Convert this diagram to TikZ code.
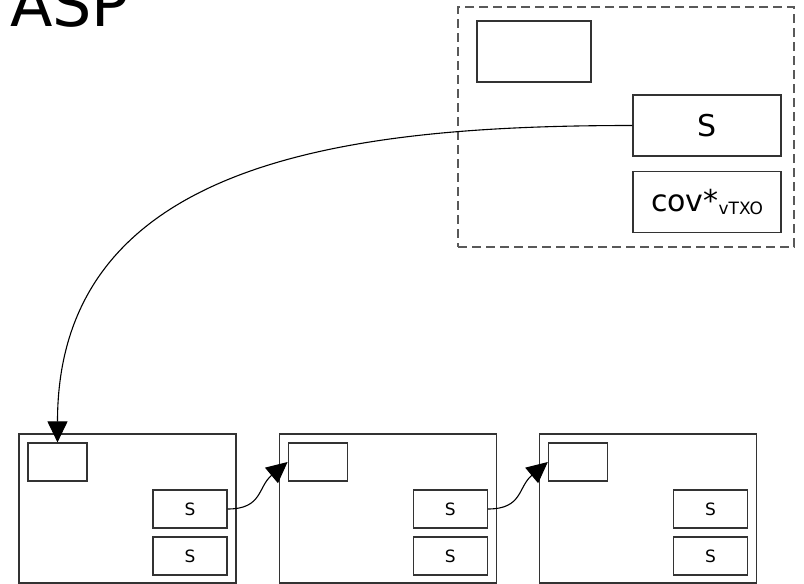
\documentclass[tikz,border=0pt]{standalone}
\usepackage{fontspec}
\setmainfont{DejaVu Sans}
\usetikzlibrary{arrows.meta,positioning}

\begin{document}
\begin{tikzpicture}[x=1pt, y=-1pt, >={Triangle[length=21pt,width=20pt]}, node distance=9pt,
    box/.style={rectangle, draw=black!80, line width=1.2pt, inner sep=0pt},
    pool/.style={box, dash pattern=on 9pt off 5pt, draw=black!65},
    tx/.style={box, minimum width=217pt, minimum height=149pt},
    inbox/.style={box, minimum width=59pt, minimum height=38pt},
    sbox/.style={box, minimum width=74pt, minimum height=38pt, font=\fontsize{17}{17}\selectfont},
    bigbox/.style={box, minimum width=148pt, minimum height=61pt, font=\fontsize{30}{30}\selectfont},
    line/.style={draw, ->, line width=1.1pt}]

    \useasboundingbox (0,0) rectangle (804,584);

    \node [anchor=base west, inner sep=0pt, font=\fontsize{62}{62}\selectfont] (asp) at (10,26) {ASP};

    % ASP side
    \node [pool, minimum width=336pt, minimum height=240pt] (grp) at (626,127) {};
    \node [box, minimum width=114pt, minimum height=61pt] (blank) at (534,51.5) {};
    \node [bigbox] (sig) at (707,125.5) {S};
    \node [bigbox, below=14pt of sig] (cov) {cov*\raisebox{-3pt}{\fontsize{17}{17}\selectfont vTXO}};

    % chain
    \node [tx] (tx1) at (127.5,508.5) {};
    \node [tx, right=42pt of tx1] (tx2) {};
    \node [tx, right=42pt of tx2] (tx3) {};

    \node [inbox, anchor=north west] (in1) at ([shift={(9,9)}]tx1.north west) {};
    \node [inbox, anchor=north west] (in2) at ([shift={(9,9)}]tx2.north west) {};
    \node [inbox, anchor=north west] (in3) at ([shift={(9,9)}]tx3.north west) {};

    \node [sbox, anchor=north east] (s1a) at ([shift={(-9,56)}]tx1.north east) {S};
    \node [sbox, below of=s1a, node distance=47pt] (s1b) {S};
    \node [sbox, anchor=north east] (s2a) at ([shift={(-9,56)}]tx2.north east) {S};
    \node [sbox, below of=s2a, node distance=47pt] (s2b) {S};
    \node [sbox, anchor=north east] (s3a) at ([shift={(-9,56)}]tx3.north east) {S};
    \node [sbox, below of=s3a, node distance=47pt] (s3b) {S};

    \path [line] (sig.west) .. controls +(-283,0) and +(0,-283) .. (in1.north);
    \path [line] (s1a.east) .. controls +(35,0) and +(-30,25) .. (in2.west);
    \path [line] (s2a.east) .. controls +(35,0) and +(-30,25) .. (in3.west);
\end{tikzpicture}
\end{document}
